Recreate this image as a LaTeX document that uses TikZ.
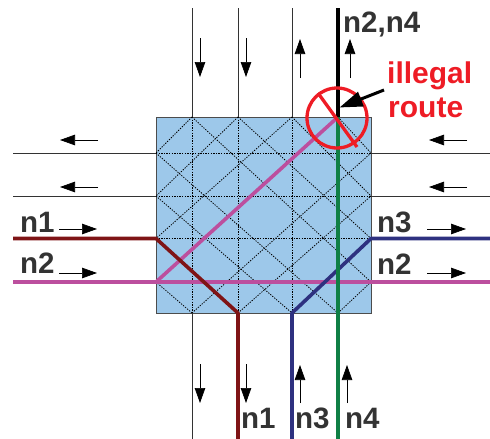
\documentclass[tikz,border=0pt]{standalone}
\usepackage{fontspec}
\setmainfont{Liberation Sans}
\usetikzlibrary{arrows.meta}
\definecolor{boxblue}{HTML}{9DC8EA}
\definecolor{nred}{HTML}{7F1416}
\definecolor{npink}{HTML}{BC4F9E}
\definecolor{nblue}{HTML}{2E3180}
\definecolor{ngreen}{HTML}{0F7F45}
\definecolor{illred}{HTML}{EE1C25}
\definecolor{lab}{HTML}{333333}
\tikzset{x=1pt,y=-1pt,
 road/.style={line width=1pt,draw=black!80},
 grid/.style={line width=0.8pt,dash pattern=on 1.3pt off 1.3pt},
 route/.style={line width=3.6pt,line join=round},
 flow/.style={line width=0.7pt,-{Triangle[length=15pt,width=10.5pt]}},
 lbl/.style={font=\bfseries\fontsize{29.5}{30}\selectfont,text=lab,inner sep=0pt},
 ill/.style={font=\bfseries\fontsize{30}{33}\selectfont,text=illred,inner sep=0pt,align=left}}
\begin{document}
\begin{tikzpicture}
\useasboundingbox (0,0) rectangle (490,439);
\node[draw=black!70,fill=boxblue,line width=1pt,minimum width=215pt,minimum height=196pt,inner sep=0pt,outer sep=0pt,anchor=north west] (box) at (156,117) {};
\foreach \n/\x in {a/192,b/238,c/292,d/338}{
 \coordinate (t\n) at (\x,117); \coordinate (b\n) at (\x,313);
 }
\foreach \n/\y in {a/153,b/196,c/238.5,e/282}{
 \coordinate (l\n) at (156,\y); \coordinate (r\n) at (371,\y);
 }
\foreach \n in {a,b,c,d}{\draw[grid] (t\n) -- (b\n);}
\foreach \n in {a,b,c,e}{\draw[grid] (l\n) -- (r\n);}
\foreach \p/\q in {ta/la,tb/lb,tc/lc,ba/le,
 ta/re,tb/rc,tc/rb,td/ra,la/bd,lb/bc,
 ba/ra,bb/rb,bd/re}{\draw[grid] (\p) -- (\q);}
\foreach \n/\x in {a/192,b/238,c/292}{
 \coordinate (rt\n) at (\x,8);
 \draw[road] (rt\n) -- (t\n);
}
\coordinate (rba) at (192,439);
\draw[road] (ba) -- (rba);
\coordinate (l1) at (13,153); \coordinate (l2) at (13,196);
\coordinate (r1) at (490,153); \coordinate (r2) at (490,196);
\draw[road] (l1) -- (la);
\draw[road] (l2) -- (lb);
\draw[road] (ra) -- (r1);
\draw[road] (rb) -- (r2);
\coordinate (e1) at (13,238.5); \coordinate (e2) at (238,439);
\coordinate (e3) at (13,282); \coordinate (e4) at (490,282);
\coordinate (e5) at (292,439); \coordinate (e6) at (490,238.5);
\coordinate (e7) at (338,439);
\coordinate (e8) at (338,8);
\draw[route,npink] (e3) -- (e4);
\draw[route,npink] (le) -- (td);
\draw[route,nred] (e1) -- (lc) -- (bb) -- (e2);
\draw[route,nblue] (e5) -- (bc) -- (rc) -- (e6);
\draw[route,ngreen] (e7) -- (td);
\draw[line width=3.6pt,black] (td) -- (e8);
\foreach \x in {200,246}{\draw[flow] (\x,38) -- (\x,77);\draw[flow] (\x,364) -- (\x,403);}
\foreach \x in {300,350}{\draw[flow] (\x,78) -- (\x,39);}
\foreach \x in {300,347}{\draw[flow] (\x,403) -- (\x,365);}
\foreach \y in {140,187}{\draw[flow] (98,\y) -- (60,\y);\draw[flow] (467,\y) -- (429,\y);}
\foreach \y in {229,273}{\draw[flow] (59,\y) -- (97,\y);\draw[flow] (427,\y) -- (466,\y);}
\node[lbl,anchor=base west] (n1l) at (20,232) {n1};
\node[lbl,anchor=base west] (n2l) at (20,273) {n2};
\node[lbl,anchor=base west] (n3r) at (377,232) {n3};
\node[lbl,anchor=base west] (n2r) at (377,274) {n2};
\node[lbl,anchor=base west] (n1b) at (241,428) {n1};
\node[lbl,anchor=base west] (n3b) at (295,428) {n3};
\node[lbl,anchor=base west] (n4b) at (345,428) {n4};
\node[lbl,anchor=base west] (n24) at (343,32) {n2,n4};
\node[ill,anchor=base west] (ill1) at (387,83) {illegal};
\node[ill,anchor=base west] (ill2) at (388,117) {route};
\draw[illred,line width=3.3pt] (337,118) circle (30);
\draw[illred,line width=3.3pt] (318,93) -- (357,147);
\coordinate (at) at (339.5,107.5);
\coordinate (af) at (384,90);
\draw[line width=3pt,-{Triangle[length=23pt,width=15pt]}] (af) -- (at);
\end{tikzpicture}
\end{document}
